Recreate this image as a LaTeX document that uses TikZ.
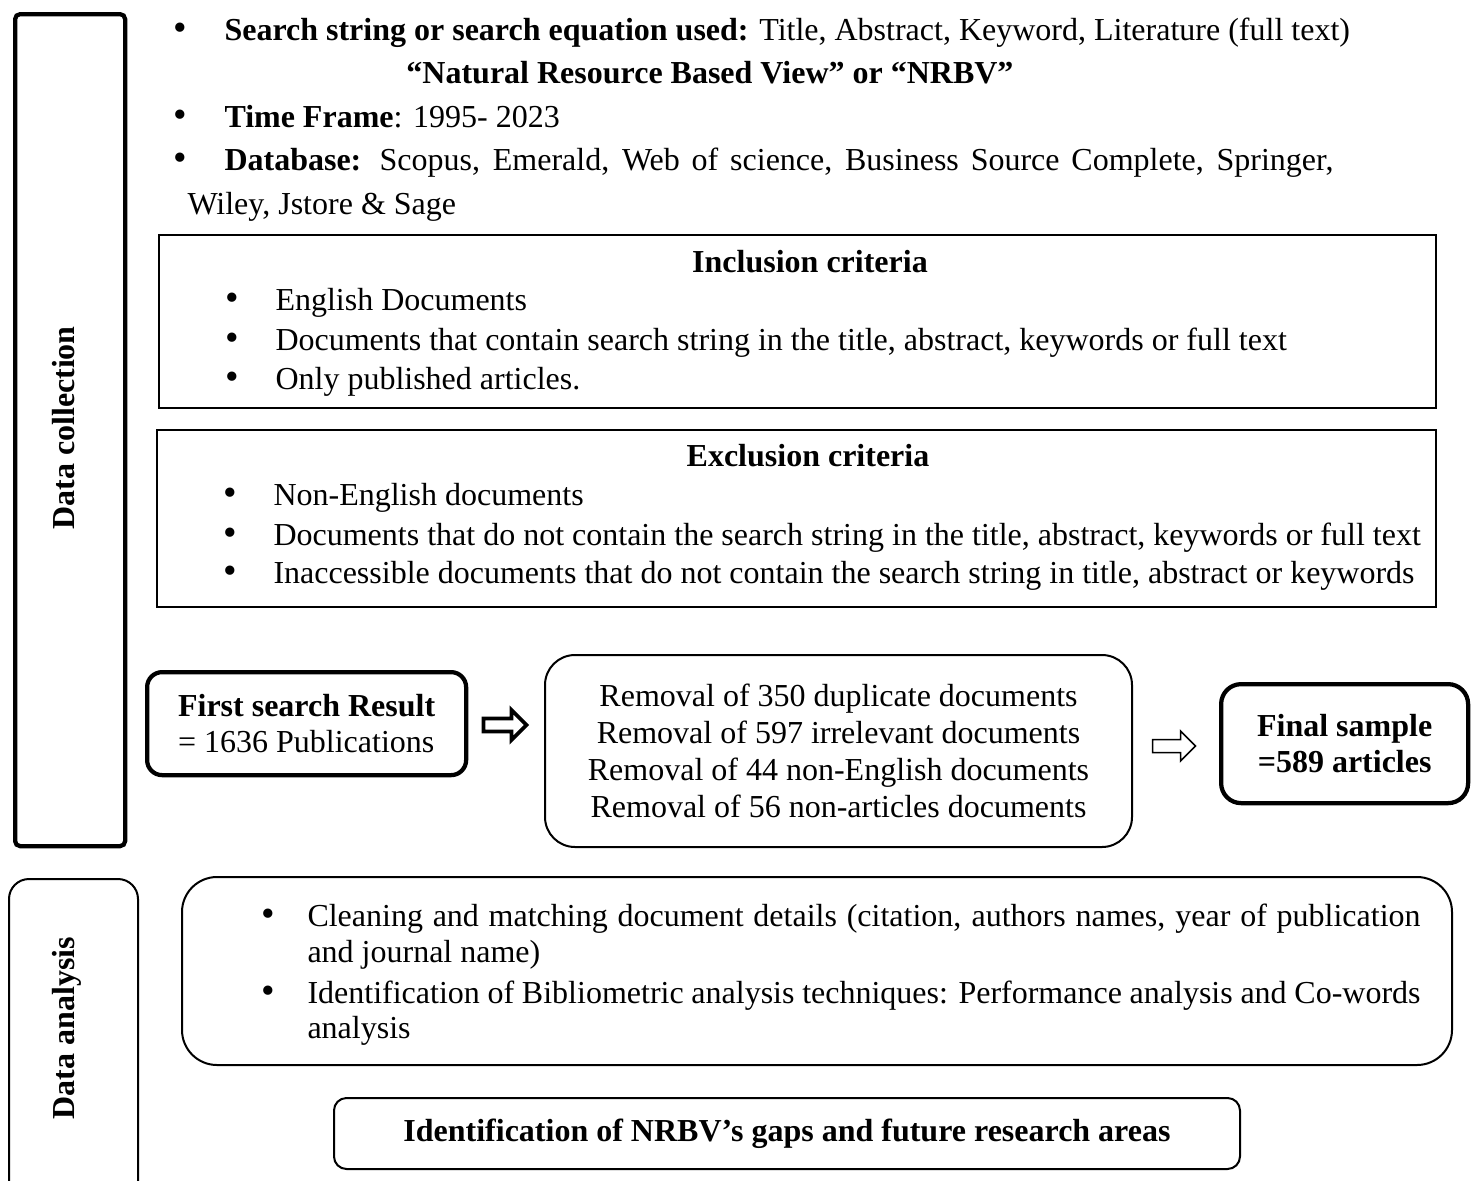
\documentclass[tikz,border=0pt]{standalone}
\usepackage{fontspec}
\setmainfont{Liberation Serif}
\usetikzlibrary{calc,positioning}

\newlength\unitpx
\setlength\unitpx{0.4pt}

\begin{document}
\begin{tikzpicture}[x=0.4pt,y=-0.4pt]

  % Styles
  \tikzstyle{txt}=[inner sep=0pt,anchor=base west,font=\fontsize{12.8}{14.4}\selectfont]
  \tikzstyle{dot}=[inner sep=0pt,anchor=base,font=\fontsize{15.5}{14.4}\selectfont]
  \tikzstyle{head}=[inner sep=0pt,anchor=base,font=\fontsize{12.8}{14.4}\selectfont\bfseries]
  \tikzstyle{side}=[inner sep=0pt,rotate=90,font=\fontsize{12.8}{14.4}\selectfont\bfseries]
  \tikzstyle{panel}=[draw,anchor=north west,inner sep=0pt,align=center,font=\fontsize{12.8}{14.8}\selectfont]
  \tikzstyle{slimbox}=[panel,line width=0.8pt]
  \tikzstyle{heavybox}=[panel,line width=1.7pt]

  % \bulletline{<id>}{<x-dot>}{<x-text>}{<y>}{<text>}
  \DeclareDocumentCommand \bulletline { m m m m m }{%
    \node[dot] (#1-dot) at (#2,#4) {\textbullet};
    \node[txt] (#1) at (#3,#4) {#5};
  }

  % \blockarrow{<coordinate>}{<line width>}
  \DeclareDocumentCommand \blockarrow { m m }{%
    \draw[line width=#2,line join=miter,fill=white] (#1) ++(-21.5,-6.5) -- ++(28,0) -- ++(0,-8.5)
      -- ++(15,15) -- ++(-15,15) -- ++(0,-8.5) -- ++(-28,0) -- cycle;
  }

  % ===========================================================================

  \useasboundingbox (0,0) rectangle (1473,1180);

  % Draw stage frames
  \node[heavybox,rounded corners=2pt,minimum width=110*\unitpx,minimum height=832*\unitpx] (collect) at (13,12) {};
  \node[side] (collect-label) at (64,428) {Data collection};
  \node[slimbox,rounded corners=8pt,minimum width=129*\unitpx,minimum height=322*\unitpx] (analysis) at (8,878) {};
  \node[side] (analysis-label) at (67,1028) {Data analysis};

  % Draw search settings
  \bulletline{search}{180}{224}{40}{\textbf{Search string or search equation used:} Title, Abstract, Keyword, Literature (full text)}
  \node[head] (string) at (710,83) {“Natural Resource Based View” or “NRBV”};
  \bulletline{time}{180}{224}{127}{\textbf{Time Frame}: 1995- 2023}
  \bulletline{database}{180}{224}{170}{\makebox[1109\unitpx][s]{\textbf{Database:} Scopus, Emerald, Web of science, Business Source Complete, Springer,}}
  \node[txt] (database-2) at (187,214) {Wiley, Jstore \& Sage};

  % Draw inclusion criteria
  \node[slimbox,minimum width=1277*\unitpx,minimum height=173*\unitpx] (inclusion) at (158,234) {};
  \node[head] (inclusion-title) at (810,272) {Inclusion criteria};
  \bulletline{inc-1}{232}{275}{310}{English Documents}
  \bulletline{inc-2}{232}{275}{350}{Documents that contain search string in the title, abstract, keywords or full text}
  \bulletline{inc-3}{232}{275}{389}{Only published articles.}

  % Draw exclusion criteria
  \node[slimbox,minimum width=1279*\unitpx,minimum height=177*\unitpx] (exclusion) at (156,429) {};
  \node[head] (exclusion-title) at (808,466) {Exclusion criteria};
  \bulletline{exc-1}{230}{273}{505}{Non-English documents}
  \bulletline{exc-2}{230}{273}{545}{Documents that do not contain the search string in the title, abstract, keywords or full text}
  \bulletline{exc-3}{230}{273}{583}{Inaccessible documents that do not contain the search string in title, abstract or keywords}

  % Draw screening row
  \node[heavybox,rounded corners=6pt,minimum width=319*\unitpx,minimum height=103*\unitpx,align=left,
    font=\fontsize{12.8}{14.4}\selectfont] (first) at (145,670) {\textbf{First search Result}\\= 1636 Publications};
  \node[slimbox,rounded corners=12pt,minimum width=587*\unitpx,minimum height=192*\unitpx] (removal) at (544,654)
    {Removal of 350 duplicate documents\\Removal of 597 irrelevant documents\\Removal of 44 non-English documents\\Removal of 56 non-articles documents};
  \node[heavybox,rounded corners=8pt,minimum width=247*\unitpx,minimum height=119*\unitpx,
    font=\fontsize{12.8}{14.4}\selectfont\bfseries] (final) at (1219,682) {Final sample\\=589 articles};

  \coordinate (arrow-1) at (505,725);
  \coordinate (arrow-2) at (1174,746);
  \blockarrow{arrow-1}{1.5pt}
  \blockarrow{arrow-2}{0.6pt}

  % Draw analysis steps
  \node[slimbox,rounded corners=14pt,minimum width=1270*\unitpx,minimum height=188*\unitpx] (cleaning) at (181,876) {};
  \bulletline{ana-1}{268}{307}{926}{\makebox[1113\unitpx][s]{Cleaning and matching document details (citation, authors names, year of publication}}
  \node[txt] (ana-1b) at (307,962) {and journal name)};
  \bulletline{ana-2}{268}{307}{1003}{\makebox[1113\unitpx][s]{Identification of Bibliometric analysis techniques: Performance analysis and Co-words}}
  \node[txt] (ana-2b) at (307,1038) {analysis};
  \node[slimbox,rounded corners=5pt,minimum width=906*\unitpx,minimum height=71*\unitpx,
    font=\fontsize{12.8}{14.4}\selectfont\bfseries] (gaps) at (333,1097) {Identification of NRBV’s gaps and future research areas};

\end{tikzpicture}
\end{document}
